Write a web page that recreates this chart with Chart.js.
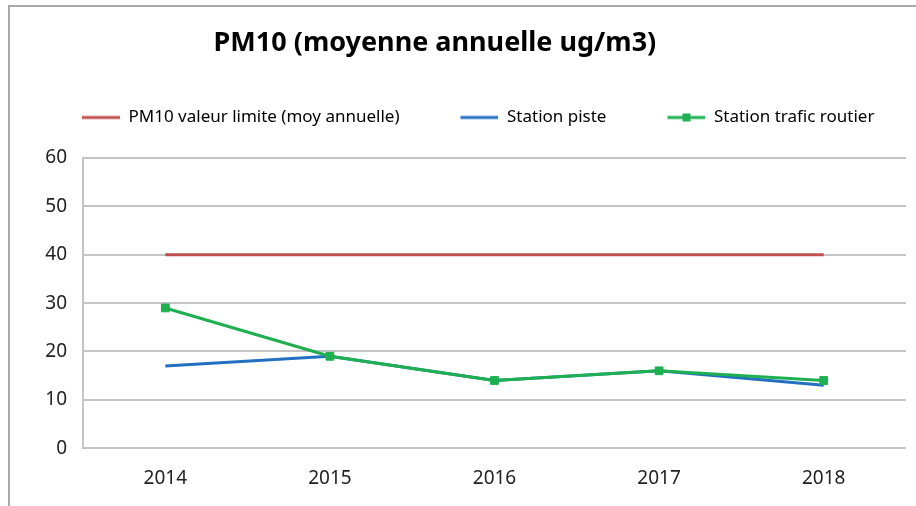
<!DOCTYPE html>
<html lang="fr">
<head>
<meta charset="UTF-8">
<title>PM10</title>
<script src="https://cdn.jsdelivr.net/npm/chart.js@4.4.1/dist/chart.umd.min.js"></script>
<style>
    body { margin: 0; background: #fff; overflow: hidden; }
    #cadre {
        position: absolute; left: 8px; top: 5px; width: 920px; height: 520px;
        border-left: 2px solid #a9a9a9; border-top: 2px solid #a9a9a9;
    }
    #wrap { position: absolute; left: 0; top: 0; width: 906px; height: 503px; }
</style>
</head>
<body>
<div id="cadre"><div id="wrap"><canvas id="mychart"></canvas></div></div>
<script>
    const annees = ['2014', '2015', '2016', '2017', '2018'];
    const valeurLimite = [40, 40, 40, 40, 40];
    const stationPiste = [17, 19, 14, 16, 13];
    const stationTrafic = [29, 19, 14, 16, 14];
    const titre = 'PM10 (moyenne annuelle ug/m3)';

    const police = "'Noto Sans', sans-serif";

    // petite image pour la légende : marge transparente + trait + marqueur éventuel
    function iconeLegende(couleur, carre) {
        const c = document.createElement('canvas');
        c.width = 69; c.height = 12;
        const g = c.getContext('2d');
        g.strokeStyle = couleur;
        g.lineWidth = 3;
        g.beginPath(); g.moveTo(31, 6); g.lineTo(69, 6); g.stroke();
        if (carre) {
            g.fillStyle = couleur;
            g.fillRect(46, 2, 8, 8);
        }
        return c;
    }

    // titre dessiné à la main (décalé à gauche comme dans Excel)
    // + hauteur de la légende fixée pour laisser l'espace au-dessus du graphe
    const titrePlugin = {
        id: 'titreExcel',
        beforeLayout(chart) {
            const lg = chart.legend;
            if (lg && !lg._fitPatch) {
                const fit = lg.fit;
                lg.fit = function () { fit.call(this); this.height = 79; };
                lg._fitPatch = true;
            }
        },
        afterDraw(chart) {
            const ctx = chart.ctx;
            ctx.save();
            ctx.font = "bold 27px " + police;
            ctx.fillStyle = '#000';
            ctx.textAlign = 'center';
            ctx.textBaseline = 'middle';
            ctx.fillText(titre, chart.width * 0.469, 36);
            ctx.restore();
        }
    };

    const ctx = document.getElementById('mychart');
    const mychart = new Chart(ctx, {
        type: 'line',
        data: {
            labels: annees,
            datasets: [{
                label: 'PM10 valeur limite (moy annuelle)',
                data: valeurLimite,
                borderColor: '#c0504d',
                backgroundColor: '#c0504d',
                borderWidth: 3,
                pointRadius: 0,
                order: 2,
                legendIcon: iconeLegende('#c0504d', false),
            }, {
                label: 'Station piste',
                data: stationPiste,
                borderColor: '#2270c0',
                backgroundColor: '#2270c0',
                borderWidth: 3,
                pointRadius: 0,
                order: 1,
                legendIcon: iconeLegende('#2270c0', false),
            }, {
                label: 'Station trafic routier',
                data: stationTrafic,
                borderColor: '#1eb050',
                backgroundColor: '#1eb050',
                borderWidth: 3,
                pointStyle: 'rect',
                pointRadius: 5.5,
                pointBorderWidth: 1,
                order: 0,
                legendIcon: iconeLegende('#1eb050', true),
            }],
        },
        options: {
            responsive: true,
            maintainAspectRatio: false,
            animation: false,
            layout: { padding: { top: 72, left: 11, right: 10, bottom: 1 } },
            plugins: {
                title: { display: false },
                tooltip: { enabled: false },
                legend: {
                    position: 'top',
                    align: 'start',
                    labels: {
                        usePointStyle: true,
                        pointStyleWidth: 69,
                        boxHeight: 12,
                        padding: 30,
                        color: '#000',
                        font: { family: police, size: 17 },
                        generateLabels(chart) {
                            return chart.data.datasets.map((ds, i) => ({
                                text: ds.label,
                                pointStyle: ds.legendIcon,
                                fillStyle: ds.borderColor,
                                strokeStyle: ds.borderColor,
                                lineWidth: 0,
                                fontColor: '#000',
                                datasetIndex: i,
                            }));
                        }
                    }
                }
            },
            scales: {
                x: {
                    offset: true,
                    grid: { display: false, drawTicks: false },
                    border: { display: false },
                    ticks: { color: '#222', font: { family: police, size: 19 }, padding: 19 },
                },
                y: {
                    min: 0,
                    max: 60,
                    ticks: { stepSize: 10, color: '#222', font: { family: police, size: 19 }, padding: 16 },
                    grid: { color: '#c4c4c4', lineWidth: 2, drawTicks: false },
                    border: { display: true, color: '#c4c4c4', width: 2 },
                    afterFit(scale) { scale.width = 62; },
                }
            }
        },
        plugins: [titrePlugin]
    });
</script>
</body>
</html>
